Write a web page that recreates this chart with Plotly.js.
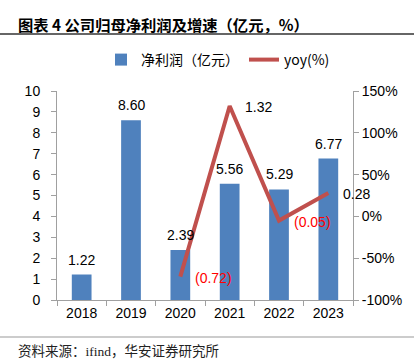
<!DOCTYPE html>
<html><head><meta charset="utf-8">
<script src="https://cdn.plot.ly/plotly-3.0.1.min.js"></script>
<style>html,body{margin:0;padding:0;background:#fff}#chart{width:414px;height:362px}</style>
</head><body><div id="chart"></div>
<script>
const years = ['2018','2019','2020','2021','2022','2023'];
const profit = [1.22, 8.60, 2.39, 5.56, 5.29, 6.77];
const yoyYears = ['2020','2021','2022','2023'];
const yoy = [-72, 132, -5, 28];
const profitName = '净利润（亿元）';
const yoyName = 'yoy(%)';
const leftTicks = [0,1,2,3,4,5,6,7,8,9,10];
const rightTicks = [-100,-50,0,50,100,150];

const FONT = 'Liberation Sans, Arial, sans-serif';
const CJK = '"Noto Sans CJK SC", sans-serif';
const axisColor = '#A0A0A0';
const PW = 296, PH = 209, ML = 57, MT = 91;
const toPX = v => (v - ML) / PW;          // container px -> paper x
const toPY = v => 1 - (v - MT) / PH;      // container px -> paper y

const traces = [
  {type:'bar', x:years, y:profit, name:profitName, marker:{color:'#4F81BD'}, width:0.4, yaxis:'y'},
  {type:'scatter', mode:'lines', x:yoyYears, y:yoy, name:yoyName, yaxis:'y2',
   line:{color:'#C0504D', width:4}}
];

const annotations = [];
years.forEach((yr,i)=>{
  annotations.push({x:i, y:profit[i], xref:'x', yref:'y', text:profit[i].toFixed(2),
    showarrow:false, yanchor:'bottom', yshift:5, font:{family:FONT, size:14, color:'#000'}});
});
yoyYears.forEach((yr,i)=>{
  const v = yoy[i]/100;
  const neg = v < 0;
  annotations.push({x:years.indexOf(yr), y:yoy[i], xref:'x', yref:'y2',
    text: neg ? '(' + Math.abs(v).toFixed(2) + ')' : v.toFixed(2),
    showarrow:false, xanchor:'left', xshift:13, yshift:-1,
    font:{family:FONT, size:14, color: neg ? '#FF0000' : '#000'}});
});
annotations.push({xref:'paper', yref:'paper', x:toPX(16), y:toPY(24), xanchor:'left', yanchor:'middle',
  text:'<b>图表 4 公司归母净利润及增速（亿元，%）</b>', showarrow:false,
  font:{family:CJK, size:15.3, color:'#000'}});
annotations.push({xref:'paper', yref:'paper', x:toPX(16), y:toPY(351), xanchor:'left', yanchor:'middle',
  text:'资料来源：ifind，华安证券研究所', showarrow:false,
  font:{family:'"Liberation Serif", "Noto Sans CJK SC", serif', size:13.5, color:'#222'}});

const layout = {
  width:414, height:362,
  margin:{l:ML, r:414-ML-PW, t:MT, b:362-MT-PH},
  paper_bgcolor:'#fff', plot_bgcolor:'#fff',
  showlegend:true,
  legend:{orientation:'h', x:toPX(218), xanchor:'center', y:toPY(60), yanchor:'middle',
    font:{family:CJK, size:14, color:'#000'}},
  xaxis:{type:'category', range:[-0.5,5.5], showline:true, linecolor:axisColor, linewidth:1,
    ticks:'outside', tickson:'boundaries', ticklen:5, tickcolor:axisColor,
    tickfont:{family:FONT, size:14, color:'#000'}, showgrid:false, zeroline:false},
  yaxis:{range:[0,10], tickvals:leftTicks, showline:true, linecolor:axisColor, linewidth:1,
    ticks:'outside', ticklen:5, tickcolor:axisColor, showgrid:false, zeroline:false,
    tickfont:{family:FONT, size:14, color:'#000'}, ticklabelstandoff:8},
  yaxis2:{overlaying:'y', side:'right', range:[-100,150], tickvals:rightTicks,
    ticktext:rightTicks.map(v=>v+'%'), showline:true, linecolor:axisColor, linewidth:1,
    ticks:'outside', ticklen:5, tickcolor:axisColor, showgrid:false, zeroline:false,
    tickfont:{family:FONT, size:14, color:'#000'}},
  annotations:annotations,
  shapes:[
    {type:'line', xref:'paper', yref:'paper', x0:toPX(0), x1:toPX(414), y0:toPY(34), y1:toPY(34),
     line:{color:'#333', width:1.5}},
    {type:'line', xref:'paper', yref:'paper', x0:toPX(0), x1:toPX(414), y0:toPY(337), y1:toPY(337),
     line:{color:'#999', width:1}}
  ]
};
Plotly.newPlot('chart', traces, layout, {displayModeBar:false, staticPlot:true});
</script></body></html>
